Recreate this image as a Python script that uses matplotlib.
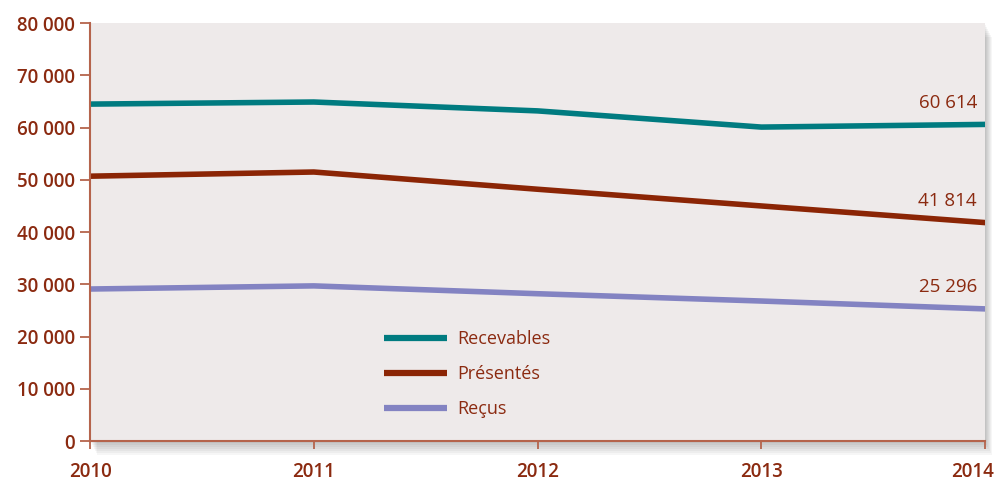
import matplotlib
matplotlib.use('Agg')
import matplotlib.pyplot as plt
import matplotlib.transforms as mtransforms
from matplotlib.patches import Rectangle
from matplotlib.ticker import FuncFormatter

years = [2010, 2011, 2012, 2013, 2014]
recevables = [64500, 64900, 63200, 60100, 60614]
presentes = [50700, 51500, 48200, 45000, 41814]
recus = [29100, 29700, 28200, 26800, 25296]
end_labels = ["60 614", "41 814", "25 296"]
series_names = ["Recevables", "Présentés", "Reçus"]

teal = "#007b80"
brown = "#8b2505"
lavender = "#8383c2"
axis_col = "#b5644c"
text_col = "#8b2a10"

plt.rcParams['font.family'] = ['Open Sans', 'DejaVu Sans']

fig = plt.figure(figsize=(9.98, 4.82), dpi=100)
fig.patch.set_facecolor('white')
ax = fig.add_axes([0.0902, 0.085, 0.897, 0.867])
ax.set_facecolor('#eeeaea')
ax.set_zorder(2)

# soft drop shadow (right and bottom) behind the plot area
for i in range(7):
    d = 2 + 2 * i
    off = mtransforms.ScaledTranslation(d / 100 * 0.5, -d / 100, fig.dpi_scale_trans)
    sh = Rectangle((0, 0), 1, 1, transform=ax.transAxes + off,
                   facecolor='black', alpha=0.035, edgecolor='none', zorder=0)
    fig.patches.append(sh)

for vals, col, name in zip([recevables, presentes, recus], [teal, brown, lavender], series_names):
    ax.plot(years, vals, color=col, lw=4, solid_capstyle='butt', label=name)

ax.set_xlim(2010, 2014)
ax.set_ylim(0, 80000)
ax.set_yticks(range(0, 80001, 10000))
ax.set_xticks(years)
ax.yaxis.set_major_formatter(FuncFormatter(lambda v, p: f"{int(v):,}".replace(",", " ")))

for s in ['top', 'right']:
    ax.spines[s].set_visible(False)
for s in ['left', 'bottom']:
    ax.spines[s].set_color(axis_col)
    ax.spines[s].set_linewidth(1.5)
ax.tick_params(axis='y', direction='out', length=7, width=1.3, color=axis_col,
               labelcolor=text_col, labelsize=13.5, pad=4)
ax.tick_params(axis='x', direction='out', length=6, width=1.3, color=axis_col,
               labelcolor=text_col, labelsize=13.5, pad=9)
for lbl in ax.get_xticklabels() + ax.get_yticklabels():
    lbl.set_fontweight('semibold')
last = ax.get_xticklabels()[-1]
last.set_transform(last.get_transform() + mtransforms.ScaledTranslation(-0.13, 0, fig.dpi_scale_trans))

for vals, txt in zip([recevables, presentes, recus], end_labels):
    ax.annotate(txt, (years[-1], vals[-1]), xytext=(-6, 9), textcoords='offset points',
                ha='right', va='bottom', color=text_col, fontsize=13.5)

leg = ax.legend(loc='upper left', bbox_to_anchor=(0.31, 0.305), frameon=False,
                handlelength=3.5, handletextpad=0.55, labelspacing=0.95, fontsize=13)
for t in leg.get_texts():
    t.set_color(text_col)
for h in leg.get_lines():
    h.set_linewidth(4.5)

fig.savefig("out.png", dpi=100)
plt.close(fig)
